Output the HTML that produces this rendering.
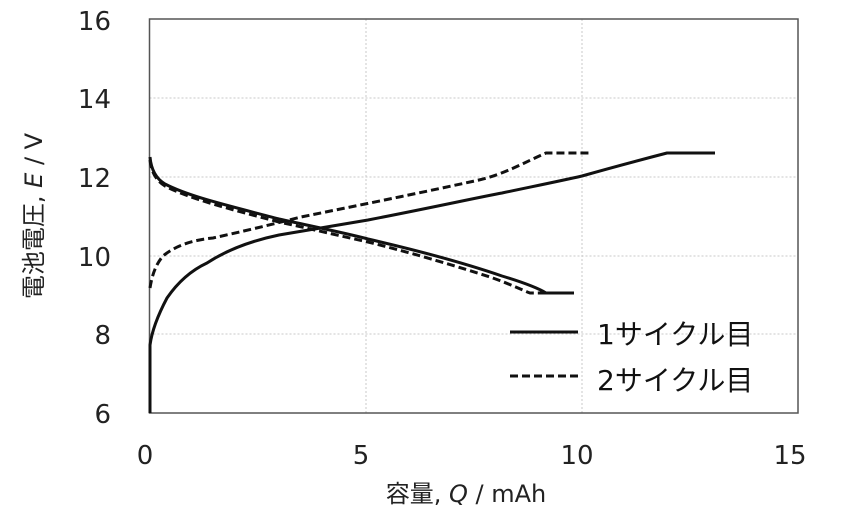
<!DOCTYPE html>
<html><head><meta charset="utf-8"><style>
body{margin:0;background:#fff;}
svg{display:block;font-family:"DejaVu Sans","Noto Sans CJK JP",sans-serif;}
</style></head><body>
<svg width="852" height="524" viewBox="0 0 852 524">
<g stroke="#c8c8c8" stroke-width="1" stroke-dasharray="2,2">
<line x1="149.5" y1="98" x2="798" y2="98"/>
<line x1="149.5" y1="177" x2="798" y2="177"/>
<line x1="149.5" y1="256" x2="798" y2="256"/>
<line x1="149.5" y1="334" x2="798" y2="334"/>
<line x1="366" y1="19" x2="366" y2="413"/>
<line x1="582" y1="19" x2="582" y2="413"/>
</g>
<rect x="149.5" y="19" width="648.5" height="394" fill="none" stroke="#555" stroke-width="1.5"/>
<g font-size="26" fill="#222" text-anchor="end">
<text x="111" y="30">16</text><text x="111" y="108">14</text><text x="111" y="187">12</text>
<text x="111" y="266">10</text><text x="111" y="344">8</text><text x="111" y="423">6</text>
</g>
<g font-size="26" fill="#222" text-anchor="middle">
<text x="145" y="464">0</text><text x="361" y="464">5</text><text x="577" y="464">10</text><text x="790" y="464">15</text>
</g>
<text x="466" y="502" font-size="24" fill="#222" text-anchor="middle">容量, <tspan font-style="italic">Q</tspan> / mAh</text>
<text transform="translate(42,216) rotate(-90)" font-size="24" fill="#222" text-anchor="middle">電池電圧, <tspan font-style="italic">E</tspan> / V</text>
<g fill="none" stroke="#111" stroke-width="3">
<path d="M150,413 L150,345 C152,330 158,315 167,298 C178,282 192,270 207,263 C230,248 255,240 279,235 C310,230 340,225 368,220 C430,208 480,197 502,193 C540,185 560,181 582,176 C610,168 640,160 667,153 L715,153"/>
<path d="M150,157 C151,168 155,178 165,184 C190,197 230,206 279,219 C320,228 345,233 368,239 C420,251 470,265 502,276 C525,283 538,288 546,293 L574,293"/>
<g stroke-dasharray="8,4">
<path d="M150,288 C152,275 156,264 163,256 C175,246 192,240 213,238 C240,232 270,225 301,217 C360,205 420,193 479,180 C505,174 525,162 546,153 L590,153"/>
<path d="M150,160 C151,170 155,180 165,186 C190,199 230,209 279,222 C320,231 345,237 368,242 C420,255 462,268 490,277 C510,284 522,290 530,293 L555,293"/>
</g>
<line x1="510" y1="332" x2="578" y2="332"/>
<line x1="510" y1="376" x2="578" y2="376" stroke-dasharray="8,4"/>
</g>
<g font-size="28" fill="#111">
<text x="597" y="344">1サイクル目</text>
<text x="597" y="390">2サイクル目</text>
</g>
</svg>
</body></html>
